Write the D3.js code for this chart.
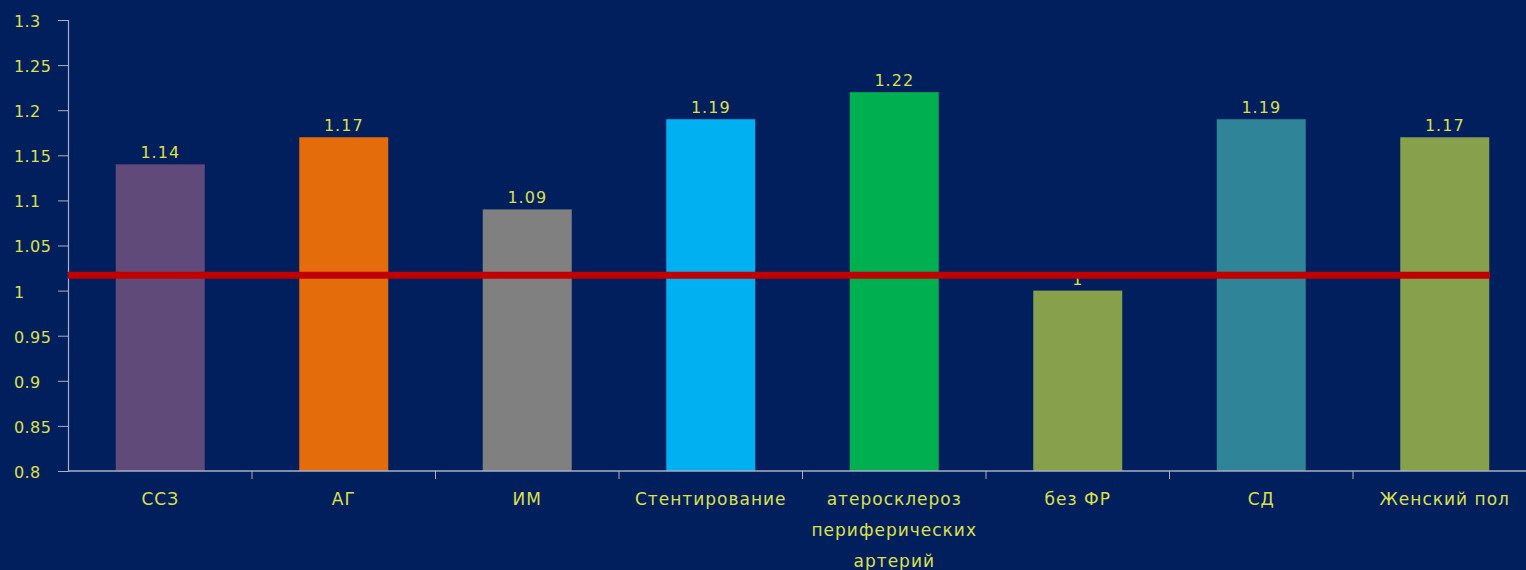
<!DOCTYPE html>
<html>
<head>
<meta charset="utf-8">
<script src="https://cdn.jsdelivr.net/npm/d3@7"></script>
<style>
  html, body { margin: 0; padding: 0; background: #001F5C; }
  svg { display: block; }
  text { font-family: "DejaVu Sans", Verdana, sans-serif; }
</style>
</head>
<body>
<svg id="chart" width="1526" height="570"></svg>
<script>
// Categories (multi-line labels split by "\n")
const categories = ["ССЗ", "АГ", "ИМ", "Стентирование", "атеросклероз\nпериферических\nартерий", "без ФР", "СД", "Женский пол"];
const values = [1.14, 1.17, 1.09, 1.19, 1.22, 1, 1.19, 1.17];
const valueLabels = ["1.14", "1.17", "1.09", "1.19", "1.22", "1", "1.19", "1.17"];
const barColors = ["#5F4A7A", "#E46C0A", "#808080", "#00B0F0", "#00B050", "#86A04C", "#2F8498", "#86A04C"];
const yTicks = [0.8, 0.85, 0.9, 0.95, 1, 1.05, 1.1, 1.15, 1.2, 1.25, 1.3];
const yTickLabels = ["0.8", "0.85", "0.9", "0.95", "1", "1.05", "1.1", "1.15", "1.2", "1.25", "1.3"];
const referenceLevel = [1.017];

const svg = d3.select("#chart");
const textColor = "#DCE04E";
const axisColor = "#A9AFC4";

const x = d3.scaleBand().domain(categories).range([68.5, 1536.5]).paddingInner(0.515).paddingOuter(0.2575);
const y = d3.scaleLinear().domain([0.8, 1.3]).range([471, 20]);

// Bars
svg.append("g").selectAll("rect").data(values).join("rect")
  .attr("x", (d, i) => x(categories[i]))
  .attr("y", d => y(d))
  .attr("width", x.bandwidth())
  .attr("height", d => y(0.8) - y(d))
  .attr("fill", (d, i) => barColors[i]);

// Value labels above bars
svg.append("g").selectAll("text").data(values).join("text")
  .attr("x", (d, i) => x(categories[i]) + x.bandwidth() / 2)
  .attr("y", d => y(d) - 6)
  .attr("text-anchor", "middle")
  .attr("fill", textColor)
  .attr("font-size", 16)
  .attr("letter-spacing", 1)
  .text((d, i) => valueLabels[i]);

// Y axis
const yAxis = svg.append("g").attr("transform", "translate(68,0)")
  .call(d3.axisLeft(y).tickValues(yTicks).tickSize(10).tickFormat((d, i) => yTickLabels[i]));
yAxis.select(".domain").attr("stroke", axisColor).attr("stroke-width", 1.2);
yAxis.selectAll(".tick line").attr("stroke", axisColor);
yAxis.selectAll(".tick text")
  .attr("fill", textColor)
  .attr("font-size", 16)
  .attr("letter-spacing", 0.4)
  .attr("text-anchor", "start")
  .attr("x", -54)
  .attr("dy", "0.4em");

// X axis
const xBoundaries = categories.slice(1).map(c => x(c) - x.step() * x.paddingInner() / 2);
svg.append("line")
  .attr("x1", 68).attr("x2", 1526)
  .attr("y1", y(0.8)).attr("y2", y(0.8))
  .attr("stroke", axisColor).attr("stroke-width", 1.5);
svg.append("g").selectAll("line").data(xBoundaries).join("line")
  .attr("x1", d => d).attr("x2", d => d)
  .attr("y1", y(0.8)).attr("y2", y(0.8) + 8)
  .attr("stroke", axisColor);

// Category labels
const catG = svg.append("g").selectAll("text").data(categories).join("text")
  .attr("x", d => x(d) + x.bandwidth() / 2)
  .attr("y", 505)
  .attr("text-anchor", "middle")
  .attr("fill", textColor)
  .attr("font-size", 17)
  .attr("letter-spacing", 1);
catG.each(function (d) {
  const t = d3.select(this);
  d.split("\n").forEach((line, i) => {
    t.append("tspan")
      .attr("x", x(d) + x.bandwidth() / 2)
      .attr("dy", i === 0 ? 0 : 31)
      .text(line);
  });
});

// Reference line
svg.append("g").selectAll("line").data(referenceLevel).join("line")
  .attr("x1", 68).attr("x2", 1490)
  .attr("y1", d => y(d)).attr("y2", d => y(d))
  .attr("stroke", "#C00000").attr("stroke-width", 7);
</script>
</body>
</html>
